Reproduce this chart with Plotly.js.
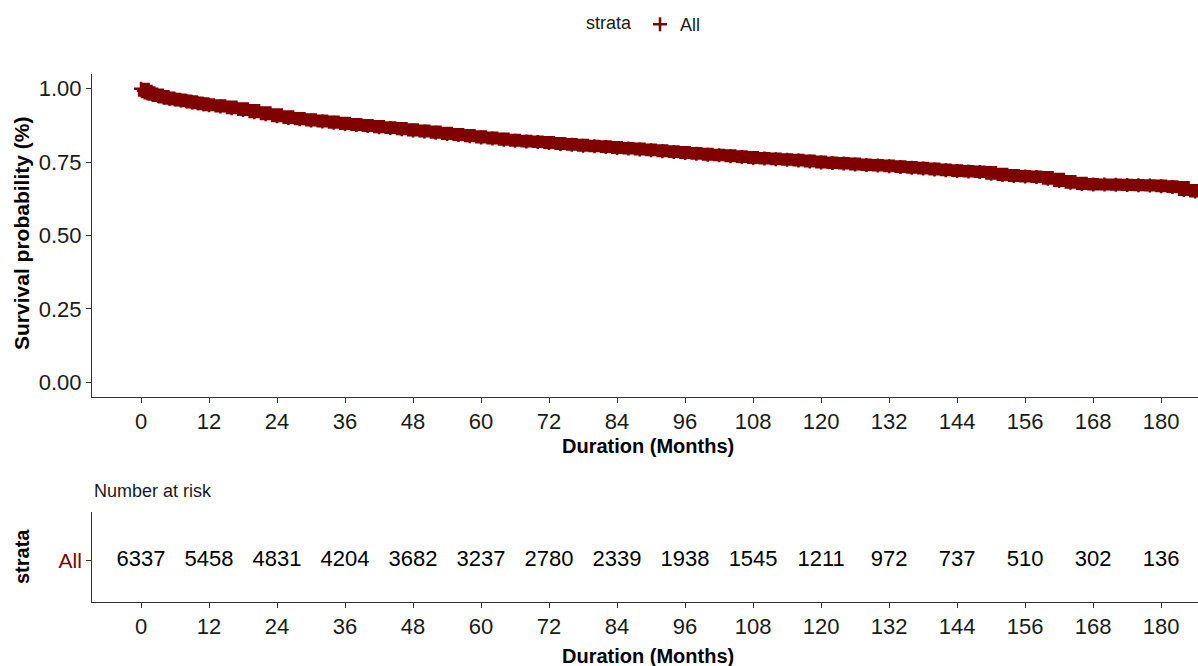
<!DOCTYPE html>
<html>
<head>
<meta charset="utf-8">
<script src="https://cdn.plot.ly/plotly-3.0.1.min.js"></script>
<style>
  html, body { margin: 0; padding: 0; background: #fff; }
  #chart { width: 1198px; height: 666px; }
</style>
</head>
<body>
<div id="chart"></div>
<script>
// Kaplan-Meier estimate for the whole cohort (months, survival probability)
const months = [0, 0.5, 1, 1.5, 2, 3, 4, 5, 6, 7, 8, 9, 10, 11, 12, 14, 16, 18, 20, 22, 24, 26, 28, 30,
  32, 34, 36, 38, 40, 42, 44, 46, 48, 50, 52, 54, 56, 58, 60, 62, 64, 66, 68, 70, 72, 74, 76, 78, 80,
  82, 84, 86, 88, 90, 92, 94, 96, 98, 100, 102, 104, 106, 108, 110, 112, 114, 116, 118, 120, 122, 124,
  126, 128, 130, 132, 134, 136, 138, 140, 142, 144, 146, 148, 150, 152, 154, 156, 158, 160, 162, 164,
  166, 168, 170, 172, 174, 176, 178, 180, 182, 184, 186, 187];
const survival = [1.000, 0.993, 0.988, 0.984, 0.980, 0.975, 0.970, 0.966, 0.963, 0.960, 0.957, 0.953,
  0.950, 0.947, 0.944, 0.939, 0.933, 0.927, 0.920, 0.913, 0.906, 0.900, 0.896, 0.892, 0.888, 0.884,
  0.880, 0.876, 0.873, 0.869, 0.866, 0.862, 0.858, 0.854, 0.850, 0.846, 0.842, 0.838, 0.834, 0.830,
  0.826, 0.823, 0.820, 0.818, 0.815, 0.812, 0.809, 0.806, 0.804, 0.801, 0.798, 0.796, 0.793, 0.790,
  0.787, 0.784, 0.781, 0.778, 0.775, 0.773, 0.770, 0.767, 0.764, 0.762, 0.760, 0.758, 0.755, 0.752,
  0.749, 0.747, 0.745, 0.742, 0.740, 0.738, 0.736, 0.733, 0.731, 0.728, 0.725, 0.722, 0.720, 0.718,
  0.716, 0.710, 0.706, 0.703, 0.701, 0.699, 0.693, 0.686, 0.680, 0.675, 0.674, 0.674, 0.673, 0.672,
  0.671, 0.670, 0.668, 0.665, 0.655, 0.650, 0.649];

// Number at risk table
const riskTimes = [0, 12, 24, 36, 48, 60, 72, 84, 96, 108, 120, 132, 144, 156, 168, 180];
const atRisk = [6337, 5458, 4831, 4204, 3682, 3237, 2780, 2339, 1938, 1545, 1211, 972, 737, 510, 302, 136];

const stratumName = 'All';
const xTicks = [0, 12, 24, 36, 48, 60, 72, 84, 96, 108, 120, 132, 144, 156, 168, 180];
const yTicks = [0, 0.25, 0.5, 0.75, 1];

const RED = '#800000';
const FONT = 'Liberation Sans, Arial, sans-serif';
const AXIS = '#333333';
const INK = '#1a1a1a';
const W = 1198, H = 666, LEFT = 92;
const px = v => (v - LEFT) / (W - LEFT);   // horizontal pixel -> paper
const py = v => (H - v) / H;               // vertical pixel -> paper

const traces = [
  {
    x: months, y: survival, type: 'scatter', mode: 'lines',
    line: { shape: 'hv', color: RED, width: 12 },
    showlegend: false, hoverinfo: 'skip', xaxis: 'x', yaxis: 'y'
  },
  {
    // censoring marks
    x: months, y: survival, type: 'scatter', mode: 'markers', name: stratumName,
    marker: { symbol: 'cross-thin', size: 10, color: RED, line: { color: RED, width: 2.5 } },
    xaxis: 'x', yaxis: 'y'
  },
  {
    x: riskTimes, y: riskTimes.map(() => 0), type: 'scatter', mode: 'text',
    text: atRisk.map(String), textposition: 'middle center',
    textfont: { family: FONT, size: 22, color: '#000' },
    showlegend: false, hoverinfo: 'skip', xaxis: 'x2', yaxis: 'y2'
  }
];

const xCommon = {
  range: [-8.65, 186.5], tickmode: 'array', tickvals: xTicks,
  showgrid: false, zeroline: false, showline: true, linecolor: AXIS, linewidth: 1,
  ticks: 'outside', ticklen: 5, tickwidth: 1, tickcolor: AXIS,
  tickfont: { family: FONT, size: 22, color: INK }
};

const layout = {
  width: W, height: H,
  margin: { l: LEFT, r: 0, t: 0, b: 0 },
  paper_bgcolor: '#fff', plot_bgcolor: '#fff',
  font: { family: FONT, color: INK },
  showlegend: true,
  legend: {
    orientation: 'h', x: 0.5, xanchor: 'center', y: 0.991, yanchor: 'top',
    title: { text: 'strata', font: { family: FONT, size: 18 } },
    font: { family: FONT, size: 18 }
  },
  xaxis: Object.assign({}, xCommon, { domain: [0, 1], anchor: 'y' }),
  yaxis: {
    domain: [py(397), py(74)], range: [-0.05, 1.05], anchor: 'x',
    tickmode: 'array', tickvals: yTicks, tickformat: '.2f',
    showgrid: false, zeroline: false, showline: true, linecolor: AXIS, linewidth: 1,
    ticks: 'outside', ticklen: 5, tickwidth: 1, tickcolor: AXIS,
    tickfont: { family: FONT, size: 22, color: INK }
  },
  xaxis2: Object.assign({}, xCommon, { domain: [0, 1], anchor: 'y2' }),
  yaxis2: {
    domain: [py(602), py(512)], range: [-0.93, 1.07], anchor: 'x2',
    tickmode: 'array', tickvals: [0], ticktext: [stratumName],
    showgrid: false, zeroline: false, showline: true, linecolor: AXIS, linewidth: 1,
    ticks: 'outside', ticklen: 5, tickwidth: 1, tickcolor: AXIS,
    tickfont: { family: FONT, size: 21, color: RED }
  },
  annotations: [
    { text: '<b>Survival probability (%)</b>', xref: 'paper', yref: 'paper',
      x: px(22), y: py(234), xanchor: 'center', yanchor: 'middle', textangle: -90, showarrow: false,
      font: { family: FONT, size: 21, color: '#000' } },
    { text: '<b>Duration (Months)</b>', xref: 'paper', yref: 'paper',
      x: px(648), y: py(446), xanchor: 'center', yanchor: 'middle', showarrow: false,
      font: { family: FONT, size: 20, color: '#000' } },
    { text: 'Number at risk', xref: 'paper', yref: 'paper',
      x: 0, y: py(491), xanchor: 'left', yanchor: 'middle', showarrow: false,
      font: { family: FONT, size: 18, color: INK } },
    { text: '<b>strata</b>', xref: 'paper', yref: 'paper',
      x: px(22), y: py(557), xanchor: 'center', yanchor: 'middle', textangle: -90, showarrow: false,
      font: { family: FONT, size: 20, color: '#000' } },
    { text: '<b>Duration (Months)</b>', xref: 'paper', yref: 'paper',
      x: px(648), y: py(656), xanchor: 'center', yanchor: 'middle', showarrow: false,
      font: { family: FONT, size: 20, color: '#000' } }
  ]
};

Plotly.newPlot('chart', traces, layout, { displayModeBar: false, staticPlot: true });
</script>
</body>
</html>
